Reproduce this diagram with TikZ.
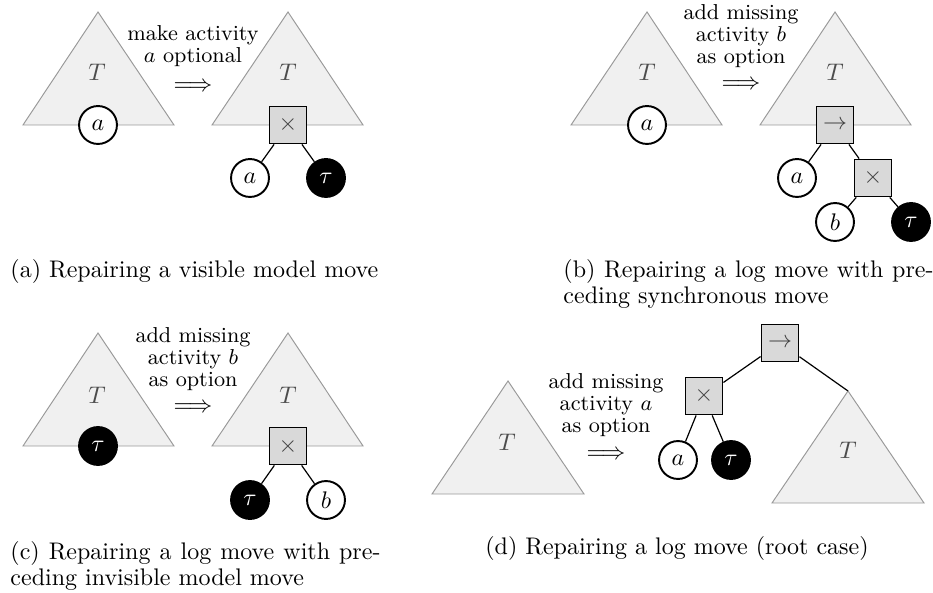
\documentclass[tikz,border=0pt]{standalone}
\usepackage{amsmath}
\begin{document}
\begin{tikzpicture}[x=0.41667pt,y=-0.41667pt]
\tikzset{
 tri/.style={fill=black!6, draw=black!40, line width=0.4pt},
 tlabel/.style={text=black!70, font=\fontsize{10}{12}\selectfont},
 leaf/.style={circle, draw=black, thick, fill=white, minimum size=15.8pt, inner sep=0pt, font=\fontsize{10}{12}\selectfont},
 silent/.style={leaf, fill=black, text=white},
 op/.style={rectangle, draw=black, thick, fill=black!15, minimum size=15.4pt, inner sep=0pt, text=black!75, font=\fontsize{10}{12}\selectfont},
 lbl/.style={align=center, font=\fontsize{9}{9.2}\selectfont, inner sep=0pt},
 imp/.style={font=\fontsize{10}{12}\selectfont, inner sep=0pt},
 captxt/.style={anchor=base west, font=\fontsize{10}{12}\selectfont, inner sep=0pt},
 conn/.style={line width=0.5pt}
}
\useasboundingbox (0,0) rectangle (933,593);
% ---------- (a)
\coordinate (aLt) at (98,12); \coordinate (aLl) at (23,125); \coordinate (aLr) at (174,125);
\draw[tri] (aLt) -- (aLl) -- (aLr) -- cycle;
\coordinate (aRtp) at (288,12); \coordinate (aRl) at (212,125); \coordinate (aRr) at (363,125);
\draw[tri] (aRtp) -- (aRl) -- (aRr) -- cycle;
\node[tlabel] (aLT) at (97,72) {$T$};
\node[leaf] (aLa) at (98,125) {$a$};
\node[lbl] (aLbl) at (193,46) {make activity\\$a$ optional};
\node[imp] (aArr) at (193,87) {$\Longrightarrow$};
\node[tlabel] (aRT) at (288,72) {$T$};
\node[op] (aX) at (288,125) {$\times$};
\node[leaf] (aRa) at (250,178) {$a$};
\node[silent] (aRtau) at (326,178) {$\tau$};
\draw[conn] (aX) -- (aRa);
\draw[conn] (aX) -- (aRtau);
\node[captxt] (capa) at (10,278) {(a) Repairing a visible model move};
% ---------- (b)
\coordinate (bLt) at (647,12); \coordinate (bLl) at (571,125); \coordinate (bLr) at (722,125);
\draw[tri] (bLt) -- (bLl) -- (bLr) -- cycle;
\coordinate (bRtp) at (835,12); \coordinate (bRl) at (760,125); \coordinate (bRr) at (911,125);
\draw[tri] (bRtp) -- (bRl) -- (bRr) -- cycle;
\node[tlabel] (bLT) at (647,72) {$T$};
\node[leaf] (bLa) at (647,125) {$a$};
\node[lbl] (bLbl) at (741,36) {add missing\\activity $b$\\as option};
\node[imp] (bArr) at (741,85) {$\Longrightarrow$};
\node[tlabel] (bRT) at (835,72) {$T$};
\node[op] (bSeq) at (835,125) {$\rightarrow$};
\node[leaf] (bRa) at (797,178) {$a$};
\node[op] (bX) at (873,178) {$\times$};
\node[leaf] (bRb) at (835,222) {$b$};
\node[silent] (bRtau) at (911,222) {$\tau$};
\draw[conn] (bSeq) -- (bRa);
\draw[conn] (bSeq) -- (bX);
\draw[conn] (bX) -- (bRb);
\draw[conn] (bX) -- (bRtau);
\node[captxt] (capb1) at (563,278) {\makebox[154.2pt][s]{(b) Repairing a log move with pre-}};
\node[captxt] (capb2) at (563,304) {ceding synchronous move};
% ---------- (c)
\coordinate (cLt) at (98,333); \coordinate (cLl) at (23,446); \coordinate (cLr) at (174,446);
\draw[tri] (cLt) -- (cLl) -- (cLr) -- cycle;
\coordinate (cRtp) at (288,333); \coordinate (cRl) at (212,446); \coordinate (cRr) at (363,446);
\draw[tri] (cRtp) -- (cRl) -- (cRr) -- cycle;
\node[tlabel] (cLT) at (97,395) {$T$};
\node[silent] (cLtau) at (98,446) {$\tau$};
\node[lbl] (cLbl) at (193,359) {add missing\\activity $b$\\as option};
\node[imp] (cArr) at (193,408) {$\Longrightarrow$};
\node[tlabel] (cRT) at (288,395) {$T$};
\node[op] (cX) at (288,446) {$\times$};
\node[silent] (cRtau) at (250,500) {$\tau$};
\node[leaf] (cRb) at (326,500) {$b$};
\draw[conn] (cX) -- (cRtau);
\draw[conn] (cX) -- (cRb);
\node[captxt] (capc1) at (10,559) {\makebox[154.2pt][s]{(c) Repairing a log move with pre-}};
\node[captxt] (capc2) at (10,585) {ceding invisible model move};
% ---------- (d)
\coordinate (dLt) at (508,381); \coordinate (dLl) at (432,494); \coordinate (dLr) at (584,494);
\draw[tri] (dLt) -- (dLl) -- (dLr) -- cycle;
\coordinate (dRtp) at (848,391); \coordinate (dRl) at (772,503); \coordinate (dRr) at (924,503);
\draw[tri] (dRtp) -- (dRl) -- (dRr) -- cycle;
\node[tlabel] (dLT) at (507,442) {$T$};
\node[lbl] (dLbl) at (606,405) {add missing\\activity $a$\\as option};
\node[imp] (dArr) at (606,455) {$\Longrightarrow$};
\node[op] (dSeq) at (780,343) {$\rightarrow$};
\node[op] (dX) at (704,396) {$\times$};
\node[leaf] (da) at (678,460) {$a$};
\node[silent] (dtau) at (731,460) {$\tau$};
\node[tlabel] (dRT) at (848,450) {$T$};
\draw[conn] (dSeq) -- (dX);
\draw[conn] (dSeq) -- (dRtp);
\draw[conn] (dX) -- (da);
\draw[conn] (dX) -- (dtau);
\node[captxt, anchor=base] (capd) at (677,554) {(d) Repairing a log move (root case)};
\end{tikzpicture}
\end{document}
